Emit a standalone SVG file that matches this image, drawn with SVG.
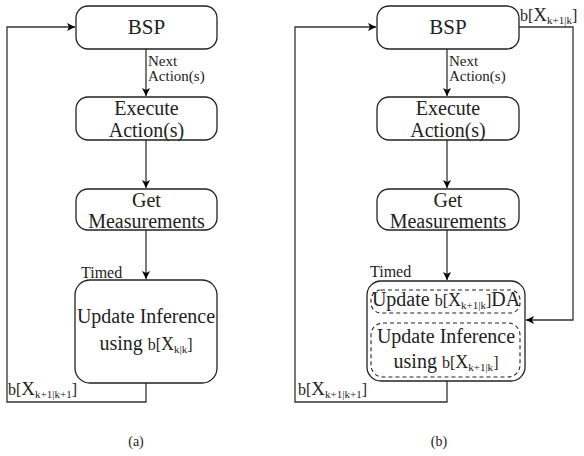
<svg xmlns="http://www.w3.org/2000/svg" width="584" height="456" viewBox="0 0 584 456">
<defs>
<marker id="arr" markerWidth="10" markerHeight="10" refX="9" refY="5" orient="auto" markerUnits="userSpaceOnUse">
<path d="M1,1 L9,5 L1,9 L3,5 Z" fill="#000"/>
</marker>
<style>
.box{fill:#fff;stroke:#222;stroke-width:1.3}
.dash{fill:none;stroke:#222;stroke-width:1.1;stroke-dasharray:4 3}
.ln{fill:none;stroke:#333;stroke-width:1.3}
</style>
</defs>
<rect width="584" height="456" fill="#fff"/>

<g id="connectors">
<line class="ln" x1="146" y1="49" x2="146" y2="96" marker-end="url(#arr)"/>
<line class="ln" x1="146" y1="140" x2="146" y2="188" marker-end="url(#arr)"/>
<line class="ln" x1="146" y1="230" x2="146" y2="279" marker-end="url(#arr)"/>
<polyline class="ln" points="146,383 146,402 7,402 7,27 75,27" marker-end="url(#arr)"/>
<line class="ln" x1="447" y1="49" x2="447" y2="96" marker-end="url(#arr)"/>
<line class="ln" x1="447" y1="140" x2="447" y2="188" marker-end="url(#arr)"/>
<line class="ln" x1="447" y1="230" x2="447" y2="280" marker-end="url(#arr)"/>
<polyline class="ln" points="447,381 447,402 295,402 295,27 376,27" marker-end="url(#arr)"/>
<polyline class="ln" points="519,27 573,27 573,320 526,320" marker-end="url(#arr)"/>
</g>

<g id="labels" fill="#222">
<text font-family="Liberation Serif" font-size="15" x="148" y="66">Next</text>
<text font-family="Liberation Serif" font-size="15" x="148" y="81">Action(s)</text>
<text font-family="Liberation Serif" font-size="16" x="81" y="278">Timed</text>
<text font-family="Liberation Serif" font-size="16" x="8" y="395">b[<tspan font-size="19">X</tspan><tspan dy="3" font-size="11">k+1|k+1</tspan><tspan dy="-3">]</tspan></text>
<text font-family="Liberation Serif" font-size="15" x="449" y="66">Next</text>
<text font-family="Liberation Serif" font-size="15" x="449" y="81">Action(s)</text>
<text font-family="Liberation Serif" font-size="16" x="370" y="277">Timed</text>
<text font-family="Liberation Serif" font-size="16" x="298" y="395">b[<tspan font-size="19">X</tspan><tspan dy="3" font-size="11">k+1|k+1</tspan><tspan dy="-3">]</tspan></text>
<text font-family="Liberation Serif" font-size="16" x="520" y="21">b[<tspan font-size="19">X</tspan><tspan dy="3" font-size="11">k+1|k</tspan><tspan dy="-3">]</tspan></text>
<text font-family="Liberation Serif" font-size="14" text-anchor="middle" x="136" y="446">(a)</text>
<text font-family="Liberation Serif" font-size="14" text-anchor="middle" x="439" y="446">(b)</text>
</g>

<g id="a_bsp">
<rect class="box" x="76" y="6" width="141" height="43" rx="12"/>
<text font-family="Liberation Serif" font-size="21" text-anchor="middle" fill="#222" x="146.5" y="34">BSP</text>
</g>
<g id="a_execute">
<rect class="box" x="76" y="97" width="141" height="43" rx="12"/>
<text font-family="Liberation Serif" font-size="20" text-anchor="middle" fill="#222" x="146.5" y="115">Execute</text>
<text font-family="Liberation Serif" font-size="20" text-anchor="middle" fill="#222" x="146.5" y="137">Action(s)</text>
</g>
<g id="a_measure">
<rect class="box" x="76" y="189" width="141" height="41" rx="12"/>
<text font-family="Liberation Serif" font-size="20" text-anchor="middle" fill="#222" x="146.5" y="207">Get</text>
<text font-family="Liberation Serif" font-size="20" text-anchor="middle" fill="#222" x="146.5" y="228">Measurements</text>
</g>
<g id="a_update">
<rect class="box" x="75" y="280" width="142" height="103" rx="15"/>
<text font-family="Liberation Serif" font-size="20" text-anchor="middle" fill="#222" x="146" y="323">Update Inference</text>
<text font-family="Liberation Serif" font-size="20" text-anchor="middle" fill="#222" x="146" y="350">using <tspan font-size="16">b[</tspan><tspan font-size="18">X</tspan><tspan dy="3" font-size="11">k|k</tspan><tspan dy="-3" font-size="16">]</tspan></text>
</g>

<g id="b_bsp">
<rect class="box" x="377" y="6" width="142" height="43" rx="12"/>
<text font-family="Liberation Serif" font-size="21" text-anchor="middle" fill="#222" x="448" y="34">BSP</text>
</g>
<g id="b_execute">
<rect class="box" x="377" y="97" width="142" height="43" rx="12"/>
<text font-family="Liberation Serif" font-size="20" text-anchor="middle" fill="#222" x="448" y="115">Execute</text>
<text font-family="Liberation Serif" font-size="20" text-anchor="middle" fill="#222" x="448" y="137">Action(s)</text>
</g>
<g id="b_measure">
<rect class="box" x="377" y="189" width="142" height="41" rx="12"/>
<text font-family="Liberation Serif" font-size="20" text-anchor="middle" fill="#222" x="448" y="207">Get</text>
<text font-family="Liberation Serif" font-size="20" text-anchor="middle" fill="#222" x="448" y="228">Measurements</text>
</g>
<g id="b_update">
<rect class="box" x="367" y="281" width="158" height="100" rx="14"/>
<g id="b_update_da">
<rect class="dash" x="371" y="290" width="149" height="23" rx="10"/>
<text font-family="Liberation Serif" font-size="20" text-anchor="middle" fill="#222" x="446" y="306">Update <tspan font-size="16">b[</tspan><tspan font-size="18">X</tspan><tspan dy="3" font-size="11">k+1|k</tspan><tspan dy="-3" font-size="16">]</tspan>DA</text>
</g>
<g id="b_update_inf">
<rect class="dash" x="371" y="323" width="149" height="54" rx="12"/>
<text font-family="Liberation Serif" font-size="20" text-anchor="middle" fill="#222" x="446" y="343">Update Inference</text>
<text font-family="Liberation Serif" font-size="20" text-anchor="middle" fill="#222" x="446" y="368">using <tspan font-size="16">b[</tspan><tspan font-size="18">X</tspan><tspan dy="3" font-size="11">k+1|k</tspan><tspan dy="-3" font-size="16">]</tspan></text>
</g>
</g>
</svg>
